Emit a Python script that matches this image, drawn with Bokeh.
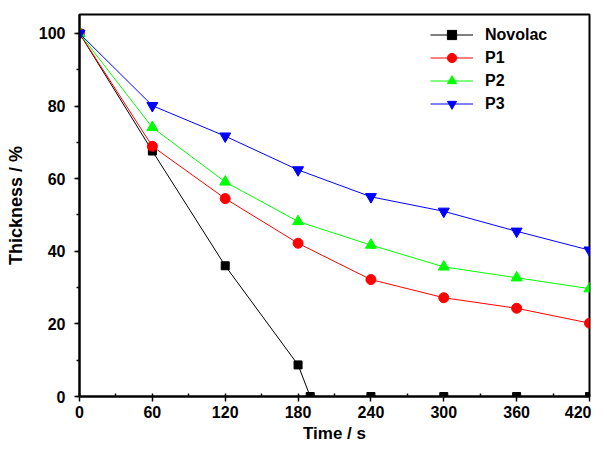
from bokeh.plotting import figure
from bokeh.models import Range1d, Legend, LegendItem, FixedTicker
from bokeh.embed import file_html
from bokeh.resources import INLINE

time_novolac = [0, 60, 120, 180, 190, 240, 300, 360, 420]
novolac = [100, 67.6, 36.0, 8.7, 0, 0, 0, 0, 0]
time_p = [0, 60, 120, 180, 240, 300, 360, 420]
p1 = [100, 68.9, 54.5, 42.2, 32.2, 27.2, 24.3, 20.2]
p2 = [100, 74.1, 59.1, 48.2, 41.7, 35.7, 32.7, 29.7]
p3 = [100, 80.1, 71.7, 62.4, 55.0, 51.0, 45.5, 40.3]
x_ticks = [0, 60, 120, 180, 240, 300, 360, 420]
y_ticks = [0, 20, 40, 60, 80, 100]
x_title = "Time / s"
y_title = "Thickness / %"

FONT = "Liberation Sans"

p = figure(width=591, height=446, output_backend="svg", toolbar_location=None,
           x_range=Range1d(0, 420), y_range=Range1d(0, 105.2),
           min_border_left=79, min_border_right=2, min_border_top=14, min_border_bottom=50)
p.xgrid.visible = False
p.ygrid.visible = False
p.outline_line_color = "black"
p.outline_line_width = 2
p.outline_line_alpha = 1
p.background_fill_color = "white"
p.border_fill_color = "white"

def style_axis(ax, title_size):
    ax.axis_line_width = 2
    ax.axis_line_color = "black"
    ax.major_tick_line_width = 1.5
    ax.minor_tick_line_width = 1.5
    ax.major_tick_line_color = "black"
    ax.minor_tick_line_color = "black"
    ax.major_label_text_font = FONT
    ax.major_label_text_font_style = "bold"
    ax.major_label_text_font_size = "16px"
    ax.major_label_text_color = "black"
    ax.axis_label_text_font = FONT
    ax.axis_label_text_font_style = "bold"
    ax.axis_label_text_font_size = title_size
    ax.axis_label_text_color = "black"

xa = p.xaxis[0]
style_axis(xa, "17px")
xa.ticker = FixedTicker(ticks=x_ticks, minor_ticks=list(range(0, 421, 30)))
xa.major_tick_out = 5
xa.major_tick_in = 0
xa.minor_tick_out = 0
xa.minor_tick_in = 3
xa.major_label_standoff = 4
xa.axis_label = x_title
xa.axis_label_standoff = 3

ya = p.yaxis[0]
style_axis(ya, "18px")
ya.ticker = FixedTicker(ticks=y_ticks, minor_ticks=list(range(0, 101, 10)))
ya.major_tick_out = 5
ya.major_tick_in = 0
ya.minor_tick_out = 3
ya.minor_tick_in = 0
ya.major_label_standoff = 9
ya.axis_label = y_title
ya.axis_label_standoff = 10

series = [
    ("Novolac", time_novolac, novolac, "black", "square", 8),
    ("P1", time_p, p1, "#ff0000", "circle", 10),
    ("P2", time_p, p2, "#00ff00", "triangle", 11),
    ("P3", time_p, p3, "#0000ff", "inverted_triangle", 11),
]
items = []
for name, xs, ys, col, mk, sz in series:
    r1 = p.line(xs, ys, line_color=col, line_width=1)
    r2 = p.scatter(xs, ys, marker=mk, size=sz, fill_color=col, line_color=col)
    items.append(LegendItem(label=name, renderers=[r1, r2]))

legend = Legend(items=items, location=(351, 281), border_line_alpha=0,
                background_fill_alpha=0, padding=0, margin=0, spacing=0,
                glyph_width=43, glyph_height=23, label_height=23, label_standoff=12,
                label_text_font=FONT, label_text_font_style="bold",
                label_text_font_size="16px", label_text_color="black")
p.add_layout(legend)

open("out.html", "w").write(file_html(p, INLINE))
